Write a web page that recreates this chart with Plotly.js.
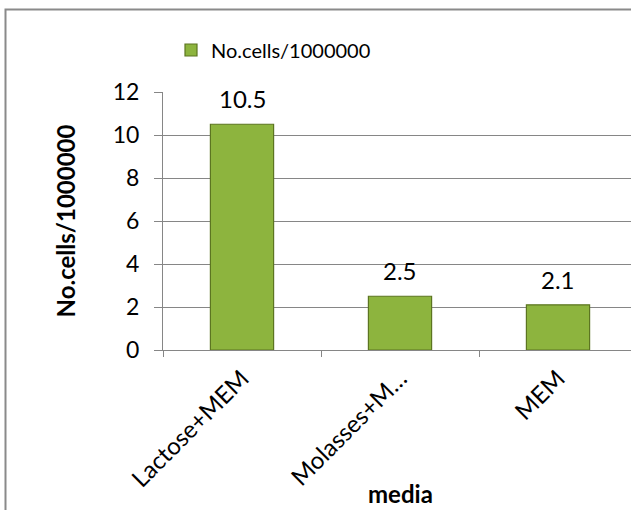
<!DOCTYPE html>
<html>
<head>
<meta charset="utf-8">
<script src="https://cdn.plot.ly/plotly-3.0.1.min.js"></script>
<style>
  html, body { margin: 0; padding: 0; width: 631px; height: 510px; overflow: hidden; background: #fff; }
  #chart { position: absolute; left: 0; top: 0; width: 645px; height: 515px; }
</style>
</head>
<body>
<div id="chart"></div>
<script>
const categories = ["Lactose+MEM", "Molasses+M…", "MEM"];
const values = [10.5, 2.5, 2.1];
const seriesName = "No.cells/1000000";
const yTicks = [0, 2, 4, 6, 8, 10, 12];
const xTitle = "media";
const yTitle = "No.cells/1000000";

const font = "Lato, 'Open Sans', sans-serif";

const trace = {
  type: "bar",
  x: categories,
  y: values,
  name: seriesName,
  marker: { color: "#8db43e", line: { color: "#5c7521", width: 1.2 } },
  width: 0.4,
  showlegend: true
};

const W = 645, H = 515, L = 163, R = 8, T = 92, B = 165;
const pw = W - L - R, ph = H - T - B;
const px = v => (v - L) / pw;          // pixel x -> paper x
const py = v => (T + ph - v) / ph;     // pixel y -> paper y

const annotations = categories.map((c, i) => ({
  x: c, y: values[i], text: String(values[i]),
  xref: "x", yref: "y", showarrow: false,
  yanchor: "bottom", yshift: 9,
  font: { family: font, size: 24, color: "#000" }
}));
annotations.push({
  text: "<b>" + xTitle + "</b>", xref: "paper", yref: "paper",
  x: px(400), y: py(493), xanchor: "center", yanchor: "middle",
  showarrow: false, font: { family: font, size: 24, color: "#000" }
});

// chart-area frame (outer border of the chart object)
const frameRect = {
  type: "rect", xref: "paper", yref: "paper", layer: "above",
  x0: px(5.5), x1: px(W + 10), y0: py(H + 10), y1: py(9.5),
  line: { color: "#8a8a8a", width: 2 }, fillcolor: "rgba(0,0,0,0)"
};

const layout = {
  width: W, height: H,
  margin: { l: L, r: R, t: T, b: B },
  paper_bgcolor: "#fff",
  plot_bgcolor: "rgba(0,0,0,0)",
  font: { family: font, size: 22, color: "#000" },
  bargap: 0.6,
  showlegend: true,
  legend: {
    orientation: "h", x: px(171), y: py(50), xanchor: "left", yanchor: "middle",
    font: { family: font, size: 20, color: "#000" },
    itemwidth: 30, bgcolor: "rgba(0,0,0,0)"
  },
  xaxis: {
    type: "category",
    tickangle: -45,
    ticks: "outside", tickson: "boundaries", ticklen: 6, tickcolor: "#868686",
    showline: true, linecolor: "#868686", linewidth: 1,
    showgrid: false,
    ticklabelstandoff: 4,
    tickfont: { family: font, size: 24 },
    automargin: false
  },
  yaxis: {
    range: [0, 12],
    tickvals: yTicks,
    ticks: "outside", ticklen: 8, tickcolor: "#868686",
    showline: true, linecolor: "#868686", linewidth: 1,
    showgrid: true, gridcolor: "#868686", gridwidth: 1,
    zeroline: false,
    ticklabelstandoff: 10,
    tickfont: { family: font, size: 23 },
    automargin: false,
    title: { text: yTitle, font: { family: font, size: 24, weight: "bold" }, standoff: 30 }
  },
  shapes: [frameRect],
  annotations: annotations
};

Plotly.newPlot("chart", [trace], layout, { displayModeBar: false, staticPlot: true });
</script>
</body>
</html>
